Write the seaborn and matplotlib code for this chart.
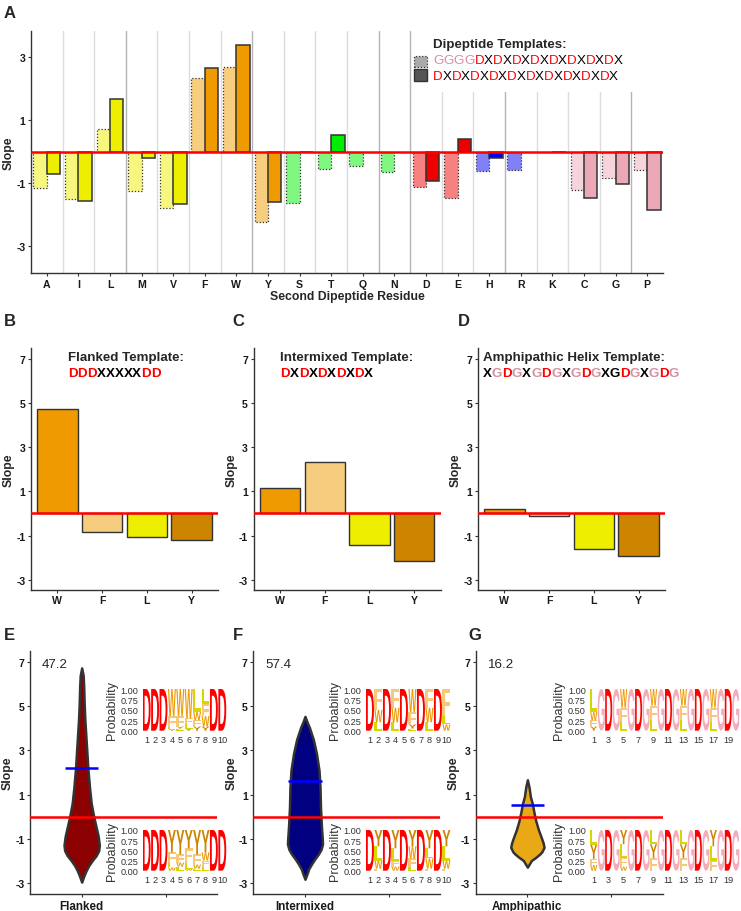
import numpy as np
import pandas as pd
import matplotlib
matplotlib.use("Agg")
import matplotlib.pyplot as plt
import seaborn as sns
from matplotlib.textpath import TextPath
from matplotlib.patches import PathPatch, Rectangle
from matplotlib.font_manager import FontProperties
from matplotlib.transforms import Affine2D

# ---------------- data ----------------
residues = ['A', 'I', 'L', 'M', 'V', 'F', 'W', 'Y', 'S', 'T', 'Q', 'N',
            'D', 'E', 'H', 'R', 'K', 'C', 'G', 'P']
residue_group = ['aliph'] * 5 + ['arom'] * 3 + ['polar'] * 4 + ['acid'] * 2 + \
                ['basic'] * 3 + ['special'] * 3
nan = np.nan
slope_gggg = [-1.16, -1.52, 0.72, -1.27, -1.80, 2.35, 2.70, -2.25, -1.64, -0.55,
              -0.45, -0.66, -1.14, -1.49, -0.63, -0.60, nan, -1.22, -0.83, -0.59]
slope_dx = [-0.72, -1.56, 1.66, -0.19, -1.68, 2.65, 3.40, -1.59, -0.02, 0.52,
            nan, nan, -0.95, 0.40, -0.21, nan, -0.02, -1.48, -1.03, -1.86]
template_names = ['GGGGDX', 'DX']

aro_residues = ['W', 'F', 'L', 'Y']
slope_flanked = [4.70, -0.86, -1.05, -1.19]
slope_intermixed = [1.16, 2.32, -1.41, -2.16]
slope_amphipathic = [0.21, -0.10, -1.59, -1.91]

violin_labels = ['Flanked', 'Intermixed', 'Amphipathic']
violin_pct = ['47.2', '57.4', '16.2']
violin_means = [2.22, 1.63, 0.54]
flanked_y = [6.75, 6.4, 5.9, 5.1, 4.4, 3.6, 2.8, 2.2, 1.3, 0.6, 0.0, -0.5, -0.9,
             -1.3, -1.55, -1.77, -2.0, -2.23, -2.45, -2.68, -2.98]
flanked_w = [0, 3, 4, 5, 6.3, 8.5, 10.7, 12.3, 15.7, 19, 24, 29, 33,
             35.3, 34, 29, 21, 14, 9, 4.7, 0]
intermixed_y = [4.55, 4.3, 4.05, 3.5, 2.85, 2.1, 1.35, 0.4, -0.5, -1.0, -1.25,
                -1.5, -1.7, -1.95, -2.16, -2.4, -2.55, -2.85]
intermixed_w = [0, 4, 8.7, 16.7, 23, 28, 30, 31, 33, 34.5, 35,
                32, 27, 19, 13, 7, 5, 0]
amphipathic_y = [1.67, 1.33, 0.9, 0.57, 0.2, -0.19, -0.6, -0.95, -1.2, -1.4,
                 -1.6, -1.7, -1.85, -2.0, -2.3]
amphipathic_w = [0, 3.3, 6, 10, 13, 16.7, 22, 27.7, 31.5, 33.3,
                 29, 25, 17, 8, 0]

D1 = {'D': 1.0}
G1 = {'G': 1.0}
logo_flanked_pos = [D1, D1, D1,
                    {'W': .65, 'F': .25, 'L': .06, 'Y': .04},
                    {'W': .65, 'F': .25, 'L': .05, 'Y': .05},
                    {'W': .70, 'F': .15, 'L': .10, 'Y': .05},
                    {'L': .55, 'W': .20, 'F': .15, 'Y': .10},
                    {'L': .35, 'W': .25, 'F': .30, 'Y': .10},
                    D1, D1]
logo_flanked_neg = [D1, D1, D1,
                    {'Y': .55, 'F': .25, 'L': .12, 'W': .08},
                    {'Y': .60, 'F': .20, 'L': .10, 'W': .10},
                    {'Y': .45, 'F': .35, 'L': .15, 'W': .05},
                    {'Y': .60, 'F': .25, 'L': .05, 'W': .10},
                    {'Y': .55, 'W': .20, 'F': .15, 'L': .10},
                    D1, D1]
logo_intermixed_pos = [D1, {'F': .50, 'W': .30, 'L': .20},
                       D1, {'F': .45, 'W': .35, 'L': .20},
                       D1, {'W': .55, 'F': .30, 'Y': .10, 'L': .05},
                       D1, {'F': .45, 'W': .35, 'L': .20},
                       D1, {'F': .65, 'L': .20, 'W': .15}]
logo_intermixed_neg = [D1, {'Y': .40, 'L': .35, 'W': .20, 'F': .05},
                       D1, {'Y': .45, 'L': .30, 'F': .15, 'W': .10},
                       D1, {'Y': .40, 'W': .30, 'F': .20, 'L': .10},
                       D1, {'Y': .45, 'W': .25, 'L': .25, 'F': .05},
                       D1, {'Y': .40, 'L': .35, 'W': .20, 'F': .05}]
amph_x_pos = [{'L': .55, 'W': .20, 'F': .15, 'Y': .10},
              {'W': .45, 'F': .35, 'L': .20},
              {'W': .40, 'F': .35, 'L': .25},
              {'W': .40, 'F': .35, 'L': .25},
              {'W': .45, 'F': .35, 'L': .20}]
amph_x_neg = [{'Y': .35, 'L': .36, 'F': .15, 'W': .14},
              {'Y': .35, 'L': .34, 'F': .21, 'W': .10},
              {'L': .35, 'Y': .34, 'F': .31},
              {'L': .35, 'Y': .34, 'F': .31},
              {'Y': .40, 'L': .35, 'F': .25}]
logo_amph_pos = [p for x in amph_x_pos for p in (x, G1, D1, G1)]
logo_amph_neg = [p for x in amph_x_neg for p in (x, G1, D1, G1)]

# ---------------- style ----------------
sns.set_theme(style='ticks')
plt.rcParams['font.family'] = ['Liberation Sans', 'DejaVu Sans']
plt.rcParams['axes.unicode_minus'] = False

W, H = 741, 912
fig = plt.figure(figsize=(W / 100, H / 100), dpi=100)

group_color = {'aliph': '#EEEE00', 'arom': '#EE9A00', 'polar': '#00EE00',
               'acid': '#EE0000', 'basic': '#0000EE', 'special': '#EBA9B8'}
aro_colors = ['#EE9A00', '#F6CC7F', '#EEEE00', '#CD8500']
logo_colors = {'D': '#FF0000', 'G': '#F4ABBB', 'W': '#EE9A00', 'F': '#F6C878',
               'L': '#D6D600', 'Y': '#CD8500'}
violin_colors = ['#8B0000', '#000080', '#E9A916']
RED = '#FF0000'
PINK_TXT = '#D4919E'
EDGE = '#333333'


def lighten(c, f=0.5):
    r, g, b = matplotlib.colors.to_rgb(c)
    return (r + (1 - r) * f, g + (1 - g) * f, b + (1 - b) * f)


def ax_px(l, r, t, b):
    return fig.add_axes([l / W, 1 - b / H, (r - l) / W, (b - t) / H])


def style_ax(ax, labelsize=7.6):
    sns.despine(ax=ax)
    for s in ['left', 'bottom']:
        ax.spines[s].set_color(EDGE)
        ax.spines[s].set_linewidth(1.0)
    ax.tick_params(axis='both', length=2.5, width=0.8, color=EDGE,
                   labelsize=labelsize, pad=1.5, labelcolor='#1a1a1a',
                   left=True, bottom=True)
    for lab in ax.get_xticklabels() + ax.get_yticklabels():
        lab.set_fontweight('bold')


def fig_text(x, y, s, **kw):
    return fig.text(x / W, 1 - y / H, s, **kw)


def color_string(host_ax, x, y, s, colors, size, weight):
    t = host_ax.annotate(s[0], xy=(x / W, 1 - y / H), xycoords='figure fraction',
                         ha='left', va='center', color=colors[0], fontsize=size,
                         fontweight=weight, annotation_clip=False)
    for ch, c in zip(s[1:], colors[1:]):
        t = host_ax.annotate(ch, xy=(1, 0.5), xycoords=t, ha='left', va='center',
                             color=c, fontsize=size, fontweight=weight,
                             annotation_clip=False)


def seq_colors(s, black_idx=()):
    out = []
    for i, ch in enumerate(s):
        if i in black_idx:
            out.append('black')
        elif ch == 'D':
            out.append(RED)
        elif ch == 'G':
            out.append(PINK_TXT)
        else:
            out.append('black')
    return out


LOGO_FP = FontProperties(family='Liberation Sans', weight='bold')


def draw_letter(ax, ch, xc, y0, w, h, color):
    tp = TextPath((0, 0), ch, size=1, prop=LOGO_FP)
    bb = tp.get_extents()
    tr = Affine2D().translate(-bb.x0, -bb.y0).scale(w / bb.width, h / bb.height)\
        .translate(xc - w / 2, y0)
    ax.add_patch(PathPatch(tr.transform_path(tp), fc=color, ec='none', lw=0))


def draw_logo(l, r, t, b, positions, xticks):
    lax = ax_px(l, r, t, b)
    n = len(positions)
    for i, pos in enumerate(positions, start=1):
        y0 = 0.0
        for letter, p in sorted(pos.items(), key=lambda kv: kv[1]):
            draw_letter(lax, letter, i, y0, 0.94, p, logo_colors[letter])
            y0 += p
    lax.set_xlim(0.5, n + 0.5)
    lax.set_ylim(0, 1)
    lax.set_yticks([0, .25, .5, .75, 1])
    lax.set_yticklabels(['0.00', '0.25', '0.50', '0.75', '1.00'])
    lax.set_xticks(xticks)
    lax.set_xticklabels([str(v) for v in xticks])
    for s in lax.spines.values():
        s.set_visible(False)
    lax.tick_params(length=0, labelsize=6.6, pad=3, labelcolor='#333333')
    lax.set_ylabel('Probability', fontsize=9, color='#333333', labelpad=2)
    lax.patch.set_alpha(0)
    return lax


# ---------------- Panel A ----------------
axA = ax_px(31, 663, 32, 274)
df = pd.DataFrame({'residue': residues * 2,
                   'template': [template_names[0]] * 20 + [template_names[1]] * 20,
                   'slope': slope_gggg + slope_dx}).dropna()
sns.barplot(data=df, x='residue', y='slope', hue='template', order=residues,
            hue_order=template_names, width=0.85, errorbar=None, legend=False,
            saturation=1, ax=axA, zorder=2)
for ci, cont in enumerate(axA.containers):
    for p in cont:
        idx = int(round(p.get_x() + p.get_width() / 2))
        base = group_color[residue_group[idx]]
        p.set_edgecolor(EDGE)
        if ci == 0:
            p.set_facecolor(lighten(base))
            p.set_linestyle((0, (1, 1.5)))
            p.set_linewidth(0.9)
        else:
            p.set_facecolor(base)
            p.set_linewidth(1.1)
dark_seps = [2.5, 6.5, 10.5, 11.5, 14.5, 18.5]
for k in range(19):
    xs = k + 0.5
    axA.axvline(xs, color='#B4B4B4' if xs in dark_seps else '#DCDCDC', lw=1.0, zorder=0)
axA.add_patch(Rectangle((0.604, 0.748), 0.5, 0.3, transform=axA.transAxes,
                        fc='white', ec='none', zorder=1))
axA.axhline(0, color=RED, lw=1.8, zorder=5)
axA.set_xlim(-0.5, 19.5)
axA.set_ylim(-3.86, 3.83)
axA.set_yticks([-3, -1, 1, 3])
axA.set_xlabel('Second Dipeptide Residue', fontsize=8.8, fontweight='bold', labelpad=1)
axA.set_ylabel('Slope', fontsize=8.8, fontweight='bold', labelpad=1)
style_ax(axA)

fig_text(4, 13, 'A', fontsize=12, fontweight='bold', va='center', ha='left')
fig_text(433, 45, 'Dipeptide Templates:', fontsize=9.6, fontweight='bold',
         va='center', ha='left')
fig.add_artist(Rectangle((414 / W, 1 - 68 / H), 13 / W, 11 / H, fc='#AAAAAA',
                         ec=EDGE, lw=0.9, ls=(0, (1, 1.5)), transform=fig.transFigure))
fig.add_artist(Rectangle((414 / W, 1 - 82 / H), 13 / W, 12 / H, fc='#555555',
                         ec=EDGE, lw=1.0, transform=fig.transFigure))
row1 = 'GGGG' + 'DX' * 8
row2 = 'DX' * 10
color_string(axA, 433, 61.5, row1, seq_colors(row1), 9.6, 'normal')
color_string(axA, 433, 77.5, row2, seq_colors(row2), 9.6, 'normal')

# ---------------- Panels B-D ----------------
bd_left = [31, 253.5, 478]
bd_vals = [slope_flanked, slope_intermixed, slope_amphipathic]
bd_titles = ['Flanked Template:', 'Intermixed Template:', 'Amphipathic Helix Template:']
bd_seqs = ['DDDXXXXXDD', 'DXDXDXDXDX', 'XGDGXGDGXGDGXGDGXGDG']
bd_black = [(), (), (13,)]
bd_letters = ['B', 'C', 'D']
bd_letter_x = [4, 232, 458]
bd_title_x = [68, 280.5, 483]
for i in range(3):
    ax = ax_px(bd_left[i], bd_left[i] + 187, 349, 590.7)
    sns.barplot(x=aro_residues, y=bd_vals[i], hue=aro_residues, order=aro_residues,
                hue_order=aro_residues, palette=aro_colors, width=0.9,
                saturation=1, legend=False, edgecolor=EDGE, linewidth=1.0,
                ax=ax, zorder=2)
    ax.axhline(0, color=RED, lw=1.8, zorder=5)
    ax.set_xlim(-0.59, 3.59)
    ax.set_ylim(-3.45, 7.48)
    ax.set_yticks([-3, -1, 1, 3, 5, 7])
    ax.set_xlabel('')
    ax.set_ylabel('Slope', fontsize=8.8, fontweight='bold', labelpad=1)
    style_ax(ax)
    fig_text(bd_letter_x[i], 322, bd_letters[i], fontsize=12, fontweight='bold',
             va='center', ha='left')
    fig_text(bd_title_x[i], 358, bd_titles[i], fontsize=9.6, fontweight='bold',
             va='center', ha='left')
    color_string(ax, bd_title_x[i], 374, bd_seqs[i],
                 seq_colors(bd_seqs[i], bd_black[i]), 9.6, 'bold')

# ---------------- Panels E-G ----------------
eg_left = [30, 253.3, 475.7]
eg_letter_x = [4, 233, 468]
vy = [flanked_y, intermixed_y, amphipathic_y]
vw = [flanked_w, intermixed_w, amphipathic_w]
px_per_unit = 84.0
for i in range(3):
    ax = ax_px(eg_left[i], eg_left[i] + 187, 652, 895)
    half = np.array(vw[i]) / px_per_unit / 2
    ax.fill_betweenx(vy[i], -half, half, facecolor=violin_colors[i],
                     edgecolor=EDGE, lw=1.8, zorder=2)
    ax.axhline(0, color=RED, lw=1.8, zorder=5)
    ax.hlines(violin_means[i], -0.2, 0.2, color='#0000FF', lw=1.8, zorder=6)
    ax.text(-0.47, 6.95, violin_pct[i], fontsize=9.6, ha='left', va='center')
    ax.set_xlim(-0.615, 1.61)
    ax.set_ylim(-3.52, 7.52)
    ax.set_yticks([-3, -1, 1, 3, 5, 7])
    ax.set_xticks([0, 1])
    ax.set_xticklabels([violin_labels[i], ''])
    ax.set_ylabel('Slope', fontsize=8.8, fontweight='bold', labelpad=1)
    style_ax(ax)
    for lab in ax.get_xticklabels():
        lab.set_fontsize(8.4)
    fig_text(eg_letter_x[i], 635, ['E', 'F', 'G'][i], fontsize=12,
             fontweight='bold', va='center', ha='left')

ten = list(range(1, 11))
odd = list(range(1, 20, 2))
draw_logo(142.5, 226.5, 690, 731.7, logo_flanked_pos, ten)
draw_logo(142.5, 226.5, 831, 871.7, logo_flanked_neg, ten)
draw_logo(365.7, 450.7, 690, 731.7, logo_intermixed_pos, ten)
draw_logo(365.7, 450.7, 831, 871.7, logo_intermixed_neg, ten)
draw_logo(590, 739.5, 690, 731.7, logo_amph_pos, odd)
draw_logo(590, 739.5, 831, 871.7, logo_amph_neg, odd)

fig.savefig('out.png', dpi=100)
